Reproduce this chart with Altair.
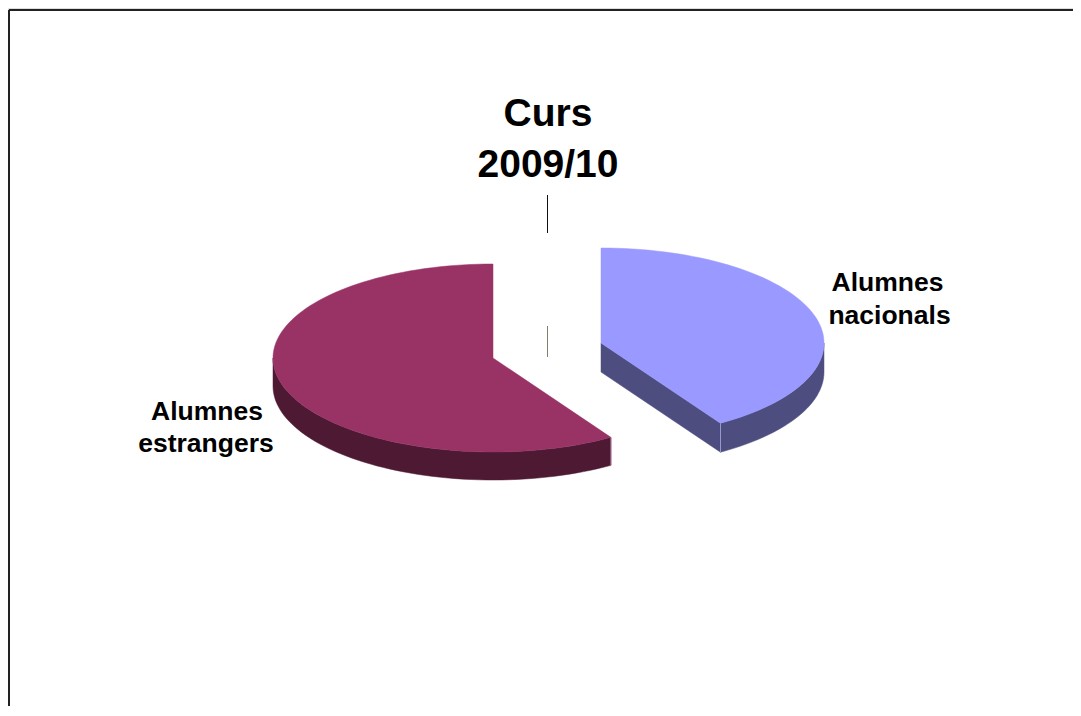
import math
import altair as alt
import pandas as pd

# Data
categories = ["Alumnes nacionals", "Alumnes estrangers"]
shares = [41.0, 59.0]
label_lines = [["Alumnes", "nacionals"], ["Alumnes", "estrangers"]]
title_lines = ["Curs", "2009/10"]

# Look
top_colors = ["#9999ff", "#993366"]
side_colors = ["#4d4d80", "#4d1933"]
edge_colors = ["#9a9ac8", "#a5708c"]
centers = [(601, 343), (493, 358)]
radii = [(223, 95), (220, 94)]
depths = [29, 28]

W, H = 1065, 698
X0, Y0 = 8, 8


def rim(c, r, a, b, dy=0, step=2.0):
    n = max(2, int(abs(b - a) / step))
    out = []
    for i in range(n + 1):
        t = math.radians(a + (b - a) * i / n)
        out.append((c[0] + r[0] * math.sin(t), c[1] - r[1] * math.cos(t) + dy))
    return out


def poly(points, color):
    pts = list(points) + [points[0]]
    return pd.DataFrame(
        {"x": [p[0] for p in pts], "y": [p[1] for p in pts], "o": range(len(pts)), "c": color}
    )


cut = shares[0] / sum(shares) * 360
frames = []
# blue slice: radial wall, rim wall, top
c, r, d = centers[0], radii[0], depths[0]
end = rim(c, r, cut, cut)[0]
frames.append(poly([c, end, (end[0], end[1] + d), (c[0], c[1] + d)], side_colors[0]))
frames.append(poly(rim(c, r, 90, cut) + rim(c, r, cut, 90, d), side_colors[0]))
frames.append(poly([c] + rim(c, r, 0, cut), top_colors[0]))
# red slice: rim wall, top
c, r, d = centers[1], radii[1], depths[1]
frames.append(poly(rim(c, r, cut, 270) + rim(c, r, 270, cut, d), side_colors[1]))
frames.append(poly([c] + rim(c, r, cut, 360), top_colors[1]))

xs = alt.Scale(domain=[X0, X0 + W], range=[0, W], nice=False, zero=False)
ys = alt.Scale(domain=[Y0, Y0 + H], range=[0, H], nice=False, zero=False)
X = alt.X("x:Q", scale=xs, axis=None)
Y = alt.Y("y:Q", scale=ys, axis=None)

layers = []
for f in frames:
    layers.append(
        alt.Chart(f)
        .mark_line(fill=f["c"].iloc[0], stroke=f["c"].iloc[0], strokeWidth=0.5, clip=False)
        .encode(x=X, y=Y, order="o:Q")
    )


def seg(x1, y1, x2, y2, color, width):
    df = pd.DataFrame({"x": [x1, x2], "y": [y1, y2], "o": [0, 1]})
    return alt.Chart(df).mark_line(stroke=color, strokeWidth=width).encode(x=X, y=Y, order="o:Q")


# edge highlights on the cut sides
e0 = rim(centers[0], radii[0], cut, cut)[0]
e1 = rim(centers[1], radii[1], cut, cut)[0]
layers.append(seg(e0[0], e0[1], e0[0], e0[1] + depths[0], edge_colors[0], 1))
layers.append(seg(e1[0], e1[1], e1[0], e1[1] + depths[1], edge_colors[1], 1))

# frame
layers.append(seg(9, 10, X0 + W, 10, "#222222", 2))
layers.append(seg(9, 10, 9, Y0 + H, "#222222", 2))

# leader lines
layers.append(seg(547.5, 195, 547.5, 233, "#111111", 1))
layers.append(seg(547.5, 326, 547.5, 357, "#80806a", 1))

FONT = "Liberation Sans"


def text(x, baseline_y, s, size):
    df = pd.DataFrame({"x": [x], "y": [baseline_y], "t": [s]})
    return (
        alt.Chart(df)
        .mark_text(font=FONT, fontWeight="bold", fontSize=size, align="center", baseline="alphabetic", color="#000000")
        .encode(x=X, y=Y, text="t:N")
    )


layers.append(text(548, 126, title_lines[0], 39))
layers.append(text(548, 177, title_lines[1], 39))
layers.append(text(887.5, 291, label_lines[0][0], 26.5))
layers.append(text(889.5, 324, label_lines[0][1], 26.5))
layers.append(text(207, 420, label_lines[1][0], 26.5))
layers.append(text(206, 452, label_lines[1][1], 26.5))

chart = (
    alt.layer(*layers)
    .properties(width=W, height=H, padding=0, autosize=alt.AutoSizeParams(type="none"))
    .configure_view(stroke=None)
    .configure(background="white")
)
chart.save("out.html", embed_options={"renderer": "svg", "actions": False})
